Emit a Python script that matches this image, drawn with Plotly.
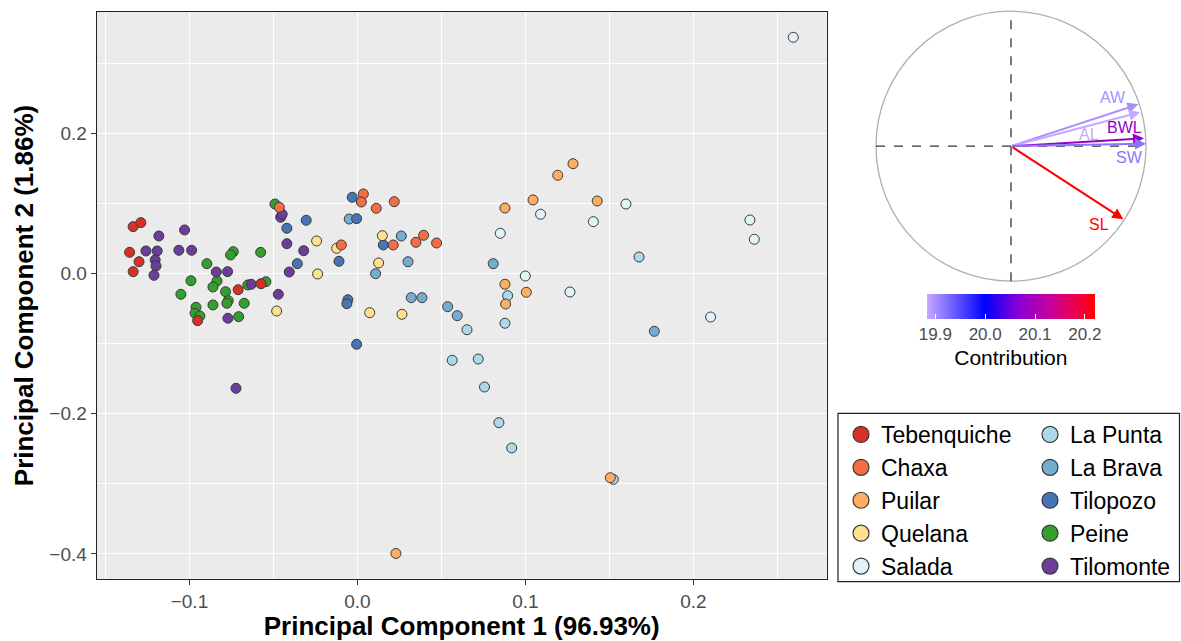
import plotly.graph_objects as go
from plotly.colors import sample_colorscale

# ---------------- data (PC1, PC2 scores per site) ----------------
groups = ["Tebenquiche", "Chaxa", "Puilar", "Quelana", "Salada",
          "La Punta", "La Brava", "Tilopozo", "Peine", "Tilomonte"]
group_colors = ["#D73027", "#F46D43", "#FDAE61", "#FEE090", "#E0F3F8",
                "#ABD9E9", "#74ADD1", "#4575B4", "#33A02C", "#6A3D9A"]

teb_x = [-0.1335, -0.1289, -0.1356, -0.1300, -0.1335, -0.0710, -0.0574, -0.0951]
teb_y = [0.0668, 0.0725, 0.0302, 0.0168, 0.0026, -0.0231, -0.0146, -0.0673]

cha_x = [-0.0465, 0.0035, 0.0023, 0.0112, 0.0219, 0.0213, 0.0348, 0.0394, 0.0471, -0.0096]
cha_y = [0.0944, 0.1134, 0.1020, 0.0930, 0.1024, 0.0407, 0.0445, 0.0545, 0.0435, 0.0407]

pui_x = [0.1283, 0.1192, 0.1045, 0.0878, 0.1427, 0.0878, 0.1005, 0.0882, 0.1505, 0.0229]
pui_y = [0.1566, 0.1401, 0.1049, 0.0934, 0.1034, -0.0154, -0.0268, -0.0435, -0.2913, -0.3994]

que_x = [-0.0481, -0.0243, -0.0237, -0.0124, 0.0148, 0.0126, 0.0073, 0.0265]
que_y = [-0.0535, 0.0464, -0.0007, 0.0359, 0.0539, 0.0150, -0.0559, -0.0582]

sal_x = [0.2594, 0.1598, 0.1090, 0.1404, 0.0850, 0.0999, 0.1265, 0.2336, 0.2362, 0.2102]
sal_y = [0.3369, 0.0991, 0.0845, 0.0739, 0.0573, -0.0036, -0.0264, 0.0763, 0.0488, -0.0621]

lpu_x = [0.1676, 0.0894, 0.0878, 0.0652, 0.0564, 0.0719, 0.0756, 0.0842, 0.0918, 0.1523]
lpu_y = [0.0235, -0.0317, -0.0710, -0.0802, -0.1238, -0.1220, -0.1619, -0.2128, -0.2489, -0.2936]

lbr_x = [-0.0049, 0.0261, 0.0301, 0.0108, 0.0320, 0.0384, 0.0537, 0.0594, 0.0808, 0.1767]
lbr_y = [0.0777, 0.0535, 0.0168, -0.0003, -0.0345, -0.0345, -0.0474, -0.0602, 0.0140, -0.0825]

til_x = [-0.0420, -0.0305, -0.0358, -0.0110, -0.0031, -0.0005, 0.0154, -0.0057, -0.0063, -0.0005]
til_y = [0.0645, 0.0759, 0.0140, 0.0174, 0.1087, 0.0782, 0.0407, -0.0374, -0.0431, -0.1010]

pei_x = [-0.0491, -0.0739, -0.0755, -0.0576, -0.0896, -0.0991, -0.0836, -0.0860, -0.0785, -0.0652,
         -0.0545, -0.1051, -0.0769, -0.0777, -0.0674, -0.0860, -0.0961, -0.0967, -0.0938, -0.0707]
pei_y = [0.0991, 0.0311, 0.0264, 0.0302, 0.0140, -0.0103, -0.0107, -0.0193, -0.0260, -0.0164,
         -0.0117, -0.0297, -0.0388, -0.0425, -0.0425, -0.0449, -0.0482, -0.0568, -0.0606, -0.0616]

tim_x = [-0.1182, -0.1029, -0.1259, -0.1192, -0.1063, -0.0987, -0.1204, -0.1199, -0.1211, -0.0840,
         -0.0773, -0.0632, -0.0471, -0.0771, -0.0723, -0.0457, -0.0448, -0.0420, -0.0320, -0.0406]
tim_y = [0.0535, 0.0621, 0.0321, 0.0321, 0.0331, 0.0331, 0.0193, 0.0107, -0.0026, 0.0021,
         0.0026, -0.0154, -0.0297, -0.0639, -0.1638, 0.0802, 0.0845, 0.0425, 0.0325, 0.0021]

group_x = [teb_x, cha_x, pui_x, que_x, sal_x, lpu_x, lbr_x, til_x, pei_x, tim_x]
group_y = [teb_y, cha_y, pui_y, que_y, sal_y, lpu_y, lbr_y, til_y, pei_y, tim_y]
draw_order = [8, 5, 4, 6, 7, 3, 9, 2, 1, 0]

# ---------------- variable loadings (correlation circle) ----------------
var_names = ["AW", "AL", "BWL", "SW", "SL"]
var_pc1 = [0.943, 0.956, 0.985, 1.000, 0.832]
var_pc2 = [0.310, 0.251, 0.058, 0.018, -0.541]
var_contrib = [19.900, 19.883, 20.077, 19.920, 20.220]
label_x = [0.758, 0.580, 0.844, 0.876, 0.650]
label_y = [0.362, 0.083, 0.140, -0.085, -0.579]
cb_ticks = [19.9, 20.0, 20.1, 20.2]

cmin, cmax = min(var_contrib), max(var_contrib)
mid = (20.0 - cmin) / (cmax - cmin)
cscale = [[0.0, "#C7A9FF"], [mid, "#0000FF"], [mid + (1 - mid) * 0.3, "#8A00D4"],
          [mid + (1 - mid) * 0.6, "#C8009A"], [mid + (1 - mid) * 0.82, "#EC0050"], [1.0, "#FF0000"]]

FONT = "Liberation Sans, Arial, Helvetica, sans-serif"
fig = go.Figure()

# main scatter
for i in draw_order:
    fig.add_trace(go.Scatter(
        x=group_x[i], y=group_y[i], mode="markers", name=groups[i], showlegend=False,
        marker=dict(size=10, color=group_colors[i], line=dict(color="#3A3A3A", width=1)),
        xaxis="x", yaxis="y"))

# legend entries (two columns)
for i, g in enumerate(groups):
    fig.add_trace(go.Scatter(
        x=[None], y=[None], mode="markers", name=g,
        legend="legend" if i < 5 else "legend2",
        marker=dict(size=16, color=group_colors[i], line=dict(color="#3A3A3A", width=1.2)),
        xaxis="x", yaxis="y"))

# variable tips (invisible) carrying the colorbar
fig.add_trace(go.Scatter(
    x=var_pc1, y=var_pc2, mode="markers", showlegend=False, hoverinfo="text", text=var_names,
    marker=dict(size=1, opacity=0, color=var_contrib, colorscale=cscale, cmin=cmin, cmax=cmax,
                showscale=True,
                colorbar=dict(orientation="h", x=1010.85 / 1181, xanchor="center",
                              y=1 - 294 / 641, yanchor="top", len=168.3 / 1181, lenmode="fraction",
                              thickness=25, thicknessmode="pixels", xpad=0, ypad=0,
                              outlinewidth=0, ticks="inside", tickcolor="white", ticklen=5,
                              tickvals=cb_ticks, tickformat=".1f",
                              tickfont=dict(size=17, color="#4D4D4D", family=FONT),
                              title=dict(text="Contribution", side="bottom",
                                         font=dict(size=21, color="black", family=FONT)))),
    xaxis="x2", yaxis="y2"))

var_colors = sample_colorscale(cscale, [(c - cmin) / (cmax - cmin) for c in var_contrib])

shapes = [
    dict(type="rect", xref="x domain", yref="y domain", x0=0, x1=1, y0=0, y1=1,
         fillcolor="#EBEBEB", line=dict(width=0), layer="below"),
    dict(type="circle", xref="x2", yref="y2", x0=-1, x1=1, y0=-1, y1=1,
         line=dict(color="#AFAFAF", width=1.3)),
    dict(type="line", xref="x2", yref="y2", x0=-1, x1=1, y0=0, y1=0,
         line=dict(color="#333333", width=1.3, dash="dash")),
    dict(type="line", xref="x2", yref="y2", x0=0, x1=0, y0=-1, y1=1,
         line=dict(color="#333333", width=1.3, dash="dash")),
    dict(type="rect", xref="paper", yref="paper", x0=838 / 1181, x1=1179.5 / 1181,
         y0=1 - 581.7 / 641, y1=1 - 413.3 / 641, line=dict(color="#222222", width=1.2)),
]

annotations = []
for n, px, py, col, lx, ly in zip(var_names, var_pc1, var_pc2, var_colors, label_x, label_y):
    annotations.append(dict(x=px, y=py, ax=0, ay=0, xref="x2", yref="y2", axref="x2", ayref="y2",
                            text="", showarrow=True, arrowhead=2, arrowsize=1.1, arrowwidth=2,
                            arrowcolor=col, standoff=0))
    annotations.append(dict(x=lx, y=ly, xref="x2", yref="y2", text=n, showarrow=False,
                            font=dict(size=16, color=col, family=FONT)))

axis_common = dict(showline=True, linecolor="#222222", linewidth=1.2, mirror=True,
                   ticks="outside", ticklen=5, tickcolor="#333333", zeroline=False,
                   showgrid=True, gridcolor="white", gridwidth=1.4,
                   tickfont=dict(size=19, color="#4D4D4D", family=FONT), automargin=False)

fig.update_layout(
    width=1181, height=641, margin=dict(l=0, r=0, t=0, b=0),
    paper_bgcolor="white", plot_bgcolor="rgba(0,0,0,0)",
    font=dict(family=FONT, color="black"),
    xaxis=dict(domain=[96.7 / 1181, 826.7 / 1181], range=[-0.1552, 0.2793], dtick=0.1, tick0=0,
               tickformat=".1f", anchor="y",
               minor=dict(dtick=0.05, tick0=0, showgrid=True, gridcolor="white", gridwidth=0.7),
               title=dict(text="<b>Principal Component 1 (96.93%)</b>", standoff=10,
                          font=dict(size=26, color="black", family=FONT)),
               **axis_common),
    yaxis=dict(domain=[1 - 579 / 641, 1 - 12 / 641], range=[-0.4358, 0.373], dtick=0.2, tick0=0,
               tickformat=".1f", anchor="x",
               minor=dict(dtick=0.1, tick0=0, showgrid=True, gridcolor="white", gridwidth=0.7),
               title=dict(text="<b>Principal Component 2 (1.86%)</b>", standoff=8,
                          font=dict(size=26, color="black", family=FONT)),
               **axis_common),
    xaxis2=dict(domain=[869.25 / 1181, 1152.75 / 1181], range=[-1.05, 1.05], anchor="y2",
                visible=False, fixedrange=True),
    yaxis2=dict(domain=[1 - 287.95 / 641, 1 - 4.45 / 641], range=[-1.05, 1.05], anchor="x2",
                visible=False, fixedrange=True),
    legend=dict(x=841 / 1181, y=1 - 413 / 641, xanchor="left", yanchor="top",
                bgcolor="rgba(0,0,0,0)", borderwidth=0, tracegroupgap=0,
                font=dict(size=23, color="black", family=FONT), itemsizing="trace"),
    legend2=dict(x=1030 / 1181, y=1 - 413 / 641, xanchor="left", yanchor="top",
                 bgcolor="rgba(0,0,0,0)", borderwidth=0, tracegroupgap=0,
                 font=dict(size=23, color="black", family=FONT), itemsizing="trace"),
    shapes=shapes, annotations=annotations,
)

fig.write_html("out.html")
